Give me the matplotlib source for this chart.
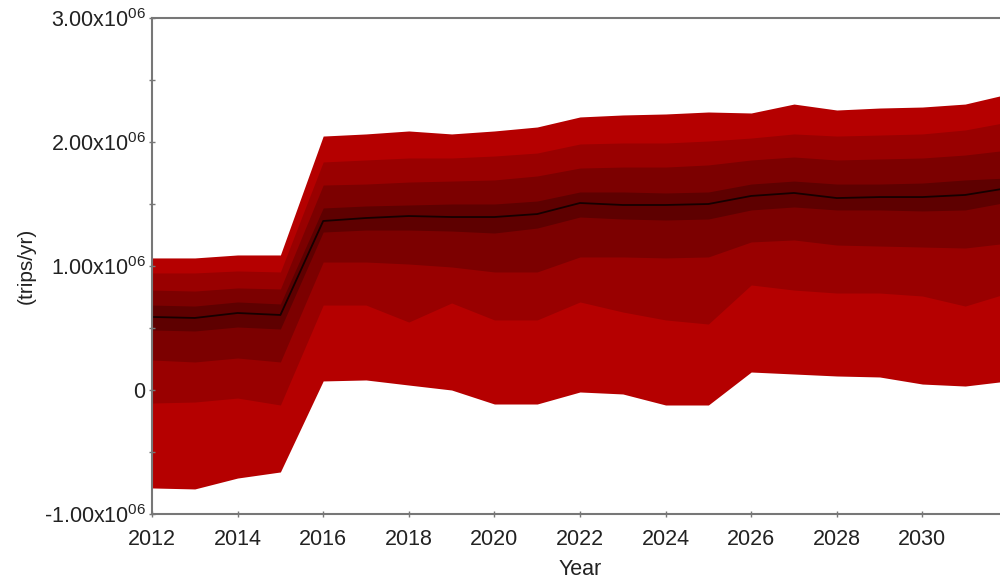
import matplotlib
matplotlib.use("Agg")
import matplotlib.pyplot as plt
import numpy as np

plt.rcParams['font.family'] = ['Liberation Sans', 'DejaVu Sans']
plt.rcParams['mathtext.fontset'] = 'custom'
plt.rcParams['mathtext.rm'] = 'Liberation Sans'
plt.rcParams['mathtext.it'] = 'Liberation Sans'

years = list(range(2012, 2033))

# Fan chart bounds (millions of trips/yr), outer-top to outer-bottom
upper_outer = [1.065, 1.065, 1.089, 1.089, 2.048, 2.065, 2.089, 2.065, 2.089, 2.121, 2.202,
               2.218, 2.226, 2.242, 2.234, 2.306, 2.258, 2.274, 2.282, 2.306, 2.387]
upper_mid = [0.944, 0.944, 0.960, 0.952, 1.839, 1.855, 1.871, 1.871, 1.887, 1.911, 1.984,
             1.992, 1.992, 2.008, 2.032, 2.065, 2.048, 2.056, 2.065, 2.097, 2.161]
upper_inner = [0.806, 0.798, 0.823, 0.815, 1.653, 1.661, 1.677, 1.685, 1.694, 1.726, 1.790,
               1.798, 1.798, 1.815, 1.855, 1.879, 1.855, 1.863, 1.871, 1.895, 1.935]
upper_core = [0.685, 0.677, 0.710, 0.694, 1.468, 1.484, 1.492, 1.500, 1.500, 1.524, 1.597,
              1.597, 1.589, 1.597, 1.661, 1.685, 1.661, 1.661, 1.669, 1.694, 1.710]
median = [0.589, 0.581, 0.621, 0.605, 1.363, 1.387, 1.403, 1.395, 1.395, 1.419, 1.508,
          1.492, 1.492, 1.500, 1.565, 1.589, 1.548, 1.556, 1.556, 1.573, 1.629]
lower_core = [0.484, 0.476, 0.508, 0.492, 1.274, 1.290, 1.290, 1.282, 1.266, 1.306, 1.395,
              1.379, 1.371, 1.379, 1.452, 1.476, 1.452, 1.452, 1.444, 1.452, 1.516]
lower_inner = [0.242, 0.226, 0.258, 0.226, 1.032, 1.032, 1.016, 0.992, 0.952, 0.952, 1.073,
               1.073, 1.065, 1.073, 1.194, 1.210, 1.169, 1.161, 1.153, 1.145, 1.185]
lower_mid = [-0.105, -0.097, -0.065, -0.121, 0.685, 0.685, 0.548, 0.702, 0.565, 0.565, 0.710,
             0.629, 0.565, 0.532, 0.847, 0.806, 0.782, 0.782, 0.758, 0.677, 0.782]
lower_outer = [-0.790, -0.798, -0.710, -0.661, 0.073, 0.081, 0.040, 0.000, -0.113, -0.113, -0.016,
               -0.032, -0.121, -0.121, 0.145, 0.129, 0.113, 0.105, 0.048, 0.032, 0.073]

ytick_vals = [-1e6, 0, 1e6, 2e6, 3e6]
ytick_labels = [r'-1.00x10$^{06}$', '0', r'1.00x10$^{06}$', r'2.00x10$^{06}$', r'3.00x10$^{06}$']
xtick_vals = list(range(2012, 2031, 2))

colors = ['#B50000', '#990000', '#7C0000', '#5E0000']

fig = plt.figure(figsize=(10, 5.81), dpi=100)
ax = fig.add_axes([0.152, 1 - 514 / 581, 0.856, (514 - 18) / 581])

x = np.array(years)
s = 1e6
pairs = [(upper_outer, lower_outer), (upper_mid, lower_mid),
         (upper_inner, lower_inner), (upper_core, lower_core)]
for (hi, lo), c in zip(pairs, colors):
    ax.fill_between(x, np.array(lo) * s, np.array(hi) * s, color=c, linewidth=0)
ax.plot(x, np.array(median) * s, color='#160000', linewidth=1.3)

ax.set_xlim(2012, 2032)
ax.set_ylim(-1e6, 3e6)
ax.set_yticks(ytick_vals)
ax.set_yticklabels(ytick_labels)
ax.set_yticks([-0.5e6, 0.5e6, 1.5e6, 2.5e6], minor=True)
ax.set_xticks(xtick_vals)
ax.set_xticklabels([str(v) for v in xtick_vals])

for sp in ['left', 'bottom', 'top']:
    ax.spines[sp].set_color('#777777')
    ax.spines[sp].set_linewidth(1.5)
ax.spines['right'].set_visible(False)

ax.tick_params(axis='both', which='both', direction='inout', length=5, width=1,
               color='#777777', labelsize=15.5, labelcolor='#222222', pad=2)
ax.tick_params(axis='x', pad=8)

ax.set_xlabel('Year', fontsize=15.5, color='#222222', labelpad=7)
ax.set_ylabel('(trips/yr)', fontsize=15, color='#222222', labelpad=6)

fig.savefig('out.png', dpi=100)
